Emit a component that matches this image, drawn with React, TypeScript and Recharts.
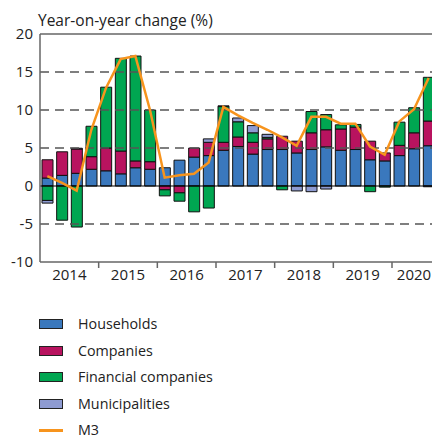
// Money supply growth contributions, stacked by sector, with M3 line
import { ComposedChart, Bar, Line, XAxis, YAxis, ReferenceLine } from 'recharts';

const quarters = [
  '2014Q1', '2014Q2', '2014Q3', '2014Q4',
  '2015Q1', '2015Q2', '2015Q3', '2015Q4',
  '2016Q1', '2016Q2', '2016Q3', '2016Q4',
  '2017Q1', '2017Q2', '2017Q3', '2017Q4',
  '2018Q1', '2018Q2', '2018Q3', '2018Q4',
  '2019Q1', '2019Q2', '2019Q3', '2019Q4',
  '2020Q1', '2020Q2', '2020Q3',
];
const households = [1.05, 1.4, 1.67, 2.2, 2.0, 1.6, 2.4, 2.2, 2.4, 3.4, 3.8, 4.0, 4.7, 5.2, 4.2, 4.8, 4.8, 4.35, 4.8, 5.15, 4.7, 4.8, 3.45, 3.3, 4.0, 4.9, 5.3];
const companies = [2.4, 3.1, 3.2, 1.66, 3.0, 3.0, 0.9, 1.0, -0.5, -0.9, 1.2, 1.75, 1.05, 1.25, 1.55, 1.4, 1.75, 1.55, 2.2, 2.25, 2.8, 2.95, 2.45, 1.05, 1.35, 2.1, 3.25];
const financial = [-1.9, -4.5, -5.4, 4.0, 8.0, 12.2, 13.8, 6.8, -0.8, -1.1, -3.4, -2.9, 4.7, 2.0, 1.25, 0.2, -0.5, 0, 2.8, 2.0, 0.55, 0.35, -0.75, -0.15, 3.05, 3.3, 5.75];
const municipalities = [-0.35, 0, 0.1, 0, 0, 0, 0, 0, 0, 0, 0, 0.45, 0.1, 0.5, 0.95, 0.4, 0, -0.65, -0.75, -0.4, 0, 0, 0, 0, 0, 0, -0.1];
const m3 = [1.3, 0.4, -0.6, 7.4, 12.9, 16.7, 17.1, 10.0, 1.1, 1.4, 1.6, 3.1, 10.4, 9.3, 8.3, 7.4, 6.4, 5.3, 9.1, 9.1, 8.2, 8.2, 5.2, 4.1, 8.5, 10.1, 14.2];
const yTicks = [-10, -5, 0, 5, 10, 15, 20];

const FONT = '"Open Sans", sans-serif';
const COLORS = {
  households: '#3a78bd',
  companies: '#b8135f',
  financial: '#00a651',
  municipalities: '#8e9bd2',
  m3: '#f7941d',
};

const data = quarters.map((q, i) => ({
  q,
  households: households[i],
  companies: companies[i],
  financial: financial[i],
  municipalities: municipalities[i],
  m3: m3[i],
}));

const CHART_W = 436;
const Y_W = 40;
const BAND = (CHART_W - Y_W) / quarters.length;

// year ticks at boundaries, year label in the middle of each year
function YearTick(props: any) {
  const { x, y, index } = props;
  const label = quarters[index].slice(0, 4);
  const qi = index % 4;
  const yearCount = quarters.filter((q) => q.startsWith(label)).length;
  let labelX: number | null = null;
  if (yearCount === 4 && qi === 1) labelX = x + BAND / 2;
  if (yearCount === 3 && qi === 1) labelX = x;
  return (
    <g>
      {qi === 0 && index > 0 && (
        <line x1={x - BAND / 2} x2={x - BAND / 2} y1={y} y2={y + 6} stroke="#666" strokeWidth={1.5} />
      )}
      {labelX !== null && (
        <text x={labelX} y={y + 18} textAnchor="middle" fontSize={15} fontFamily={FONT} fill="#222">
          {label}
        </text>
      )}
    </g>
  );
}

const legendItems = [
  { name: 'Households', color: COLORS.households },
  { name: 'Companies', color: COLORS.companies },
  { name: 'Financial companies', color: COLORS.financial },
  { name: 'Municipalities', color: COLORS.municipalities },
  { name: 'M3', color: COLORS.m3, line: true },
];

export default function App() {
  return (
    <div style={{ position: 'absolute', left: 0, top: 0, width: 432, height: 439, overflow: 'hidden', background: '#fff', fontFamily: FONT }}>
      <div style={{ position: 'absolute', left: 38, top: 10, fontSize: 15.5, color: '#222', lineHeight: '20px' }}>
        Year-on-year change (%)
      </div>
      <ComposedChart
        width={CHART_W}
        height={290}
        data={data}
        margin={{ top: 34, right: 0, bottom: 0, left: 0 }}
        stackOffset="sign"
        barSize={11}
      >
        <XAxis
          dataKey="q"
          interval={0}
          tickLine={false}
          tickSize={0}
          tickMargin={0}
          height={28}
          axisLine={{ stroke: '#666', strokeWidth: 1.5 }}
          tick={<YearTick />}
        />
        <YAxis
          domain={[-10, 20]}
          ticks={yTicks}
          width={Y_W}
          tickLine={false}
          tickSize={0}
          tickMargin={7}
          axisLine={{ stroke: '#666', strokeWidth: 1.5 }}
          tick={{ fontSize: 15, fontFamily: FONT, fill: '#222' }}
        />
        <ReferenceLine y={20} stroke="#666" strokeWidth={1.5} />
        {[15, 10, 5, -5].map((v) => (
          <ReferenceLine key={v} y={v} stroke="#555" strokeWidth={1.5} strokeDasharray="9 6" />
        ))}
        <Bar dataKey="households" stackId="a" fill={COLORS.households} stroke="#111" strokeWidth={1} isAnimationActive={false} />
        <Bar dataKey="companies" stackId="a" fill={COLORS.companies} stroke="#111" strokeWidth={1} isAnimationActive={false} />
        <Bar dataKey="financial" stackId="a" fill={COLORS.financial} stroke="#111" strokeWidth={1} isAnimationActive={false} />
        <Bar dataKey="municipalities" stackId="a" fill={COLORS.municipalities} stroke="#111" strokeWidth={1} isAnimationActive={false} />
        <ReferenceLine y={0} stroke="#000" strokeWidth={1.2} />
        <Line dataKey="m3" type="linear" stroke={COLORS.m3} strokeWidth={2.5} dot={false} isAnimationActive={false} />
      </ComposedChart>
      <div style={{ position: 'absolute', left: 39, top: 311 }}>
        {legendItems.map((it) => (
          <div key={it.name} style={{ display: 'flex', alignItems: 'center', height: 26.5, fontSize: 14.3, lineHeight: 1, color: '#222' }}>
            {it.line ? (
              <div style={{ width: 24, height: 2.5, background: it.color, marginRight: 15 }} />
            ) : (
              <div style={{ width: 22, height: 8, background: it.color, border: '1px solid #222', marginRight: 15 }} />
            )}
            <span>{it.name}</span>
          </div>
        ))}
      </div>
    </div>
  );
}
